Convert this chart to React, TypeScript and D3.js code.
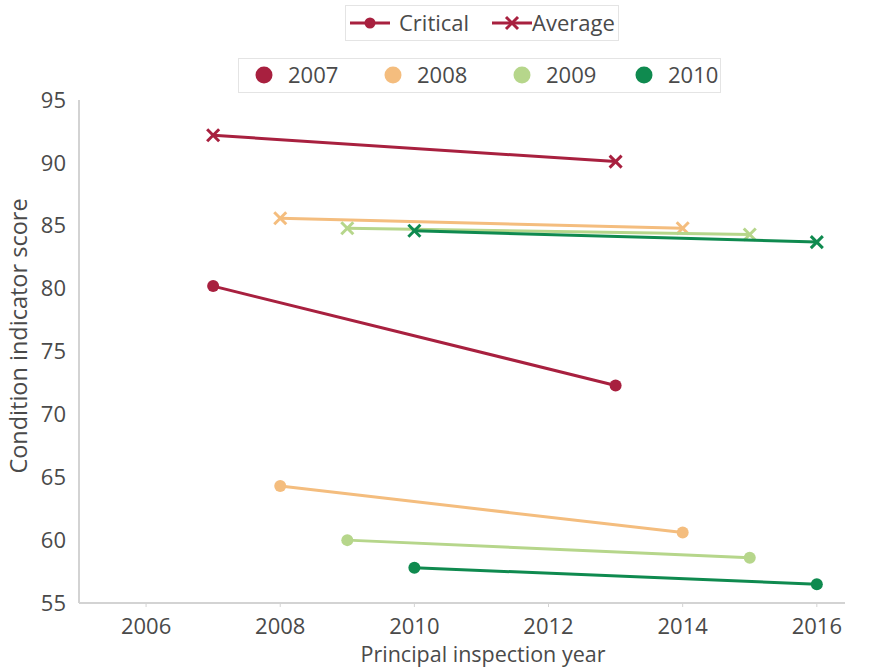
import * as d3 from "d3";

const cohorts = ["2007", "2008", "2009", "2010"];
const cohortColors = ["#a8203f", "#f4bd7e", "#b6d68b", "#0f8a4f"];
const startYears = [2007, 2008, 2009, 2010];
const endYears = [2013, 2014, 2015, 2016];
const criticalStart = [80.2, 64.3, 60.0, 57.8];
const criticalEnd = [72.3, 60.6, 58.6, 56.5];
const averageStart = [92.2, 85.6, 84.8, 84.6];
const averageEnd = [90.1, 84.8, 84.3, 83.7];
const xTicks = [2006, 2008, 2010, 2012, 2014, 2016];
const yTicks = [55, 60, 65, 70, 75, 80, 85, 90, 95];

const W = 877, H = 670;
const marginLeft = 79, marginRight = 32, marginTop = 100, marginBottom = 67;
const font = "'Open Sans', 'Noto Sans', sans-serif";
const textColor = "#4a4a4a";
const axisColor = "#d3d3d3";

function Cross({ x, y, color, s = 6 }: { x: number; y: number; color: string; s?: number }) {
  return (
    <g stroke={color} strokeWidth={3}>
      <line x1={x - s} y1={y - s} x2={x + s} y2={y + s} />
      <line x1={x - s} y1={y + s} x2={x + s} y2={y - s} />
    </g>
  );
}

export default function App() {
  const x = d3.scaleLinear([2005, 2016.42], [marginLeft, W - marginRight]);
  const y = d3.scaleLinear([55, 95], [H - marginBottom, marginTop]);
  const line = d3.line<[number, number]>().x(d => x(d[0])).y(d => y(d[1]));

  return (
    <svg width={W} height={H} style={{ position: "absolute", left: 0, top: 0 }} fontFamily={font}>
      <rect width={W} height={H} fill="white" />
      {/* axes */}
      <line x1={x(2005)} x2={x(2005)} y1={y(95)} y2={y(55)} stroke={axisColor} strokeWidth={2} />
      <line x1={x(2005)} x2={W - marginRight} y1={y(55)} y2={y(55)} stroke={axisColor} strokeWidth={2} />
      {xTicks.map(t => (
        <g key={t}>
          <line x1={x(t)} x2={x(t)} y1={y(55)} y2={y(55) + 4} stroke={axisColor} strokeWidth={1} />
          <text x={x(t)} y={y(55) + 31} textAnchor="middle" fontSize={22} fill={textColor}>{t}</text>
        </g>
      ))}
      {yTicks.map(t => (
        <text key={t} x={x(2005) - 13} y={y(t)} dy="0.35em" textAnchor="end" fontSize={22} fill={textColor}>{t}</text>
      ))}
      <text x={483} y={662} textAnchor="middle" fontSize={21.5} fill={textColor}>Principal inspection year</text>
      <text transform={`translate(27,336) rotate(-90)`} textAnchor="middle" fontSize={23.5} fill={textColor}>Condition indicator score</text>

      {/* series */}
      {cohorts.map((c, i) => {
        const col = cohortColors[i];
        const crit: [number, number][] = [[startYears[i], criticalStart[i]], [endYears[i], criticalEnd[i]]];
        const avg: [number, number][] = [[startYears[i], averageStart[i]], [endYears[i], averageEnd[i]]];
        return (
          <g key={c}>
            <path d={line(avg) ?? ""} fill="none" stroke={col} strokeWidth={3} />
            {avg.map((p, j) => <Cross key={j} x={x(p[0])} y={y(p[1])} color={col} />)}
            <path d={line(crit) ?? ""} fill="none" stroke={col} strokeWidth={3} />
            {crit.map((p, j) => <circle key={j} cx={x(p[0])} cy={y(p[1])} r={6} fill={col} />)}
          </g>
        );
      })}

      {/* legend 1 */}
      <rect x={345.5} y={5.5} width={273} height={35} fill="white" stroke="#e4e4e4" />
      <line x1={350} x2={390} y1={23} y2={23} stroke={cohortColors[0]} strokeWidth={3} />
      <circle cx={370} cy={23} r={5.5} fill={cohortColors[0]} />
      <text x={399} y={23} dy="0.35em" fontSize={22} fill={textColor}>Critical</text>
      <line x1={492} x2={532} y1={23} y2={23} stroke={cohortColors[0]} strokeWidth={3} />
      <Cross x={512} y={23} color={cohortColors[0]} s={6} />
      <text x={532} y={23} dy="0.35em" fontSize={22} fill={textColor}>Average</text>

      {/* legend 2 */}
      <rect x={238.5} y={58.5} width={482} height={34} fill="white" stroke="#e4e4e4" />
      {cohorts.map((c, i) => {
        const cx = [264, 393, 522, 644][i];
        return (
          <g key={c}>
            <circle cx={cx} cy={75} r={8.5} fill={cohortColors[i]} />
            <text x={cx + 24} y={75} dy="0.35em" fontSize={22} fill={textColor}>{c}</text>
          </g>
        );
      })}
    </svg>
  );
}
